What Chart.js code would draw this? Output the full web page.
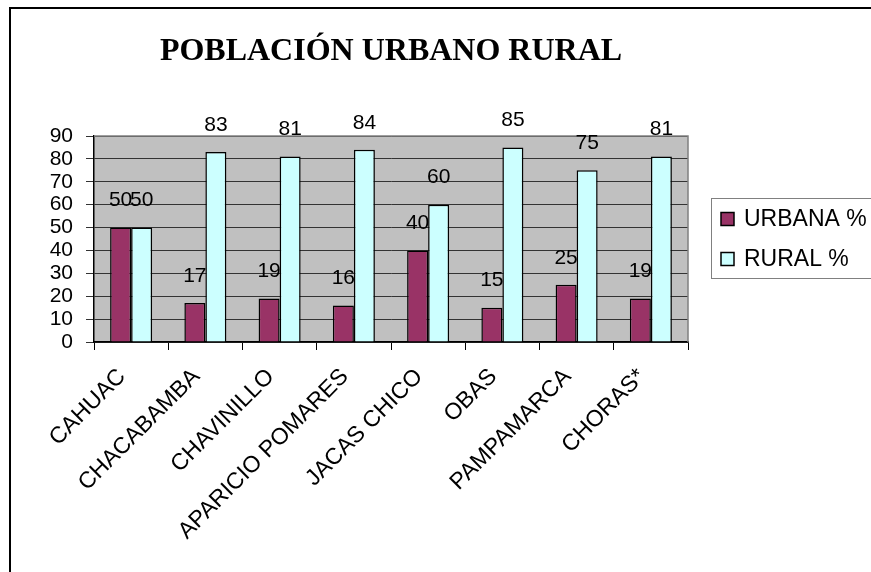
<!DOCTYPE html>
<html>
<head>
<meta charset="utf-8">
<script src="https://cdn.jsdelivr.net/npm/chart.js@4/dist/chart.umd.min.js"></script>
<style>
    html, body { margin: 0; padding: 0; background: #fff; }
    #wrap { width: 871px; height: 572px; position: relative; }
</style>
</head>
<body>
<div id="wrap"><canvas id="chart"></canvas></div>
<script>
// ---- data ----
const TITLE = 'POBLACIÓN URBANO RURAL';
const DISTRITOS = ['CAHUAC', 'CHACABAMBA', 'CHAVINILLO', 'APARICIO POMARES', 'JACAS CHICO', 'OBAS', 'PAMPAMARCA', 'CHORAS*'];
const URBANA = [50, 17, 19, 16, 40, 15, 25, 19];
const RURAL = [50, 83, 81, 84, 60, 85, 75, 81];
const Y_TICKS = [0, 10, 20, 30, 40, 50, 60, 70, 80, 90];

const SANS = '"Liberation Sans", Arial, sans-serif';
const SERIF = '"Liberation Serif", "Times New Roman", serif';

// gray plot area + outer frame + title, drawn under everything
const framePlugin = {
    id: 'frame',
    beforeDraw(chart) {
        const { ctx, chartArea: a } = chart;
        ctx.save();
        ctx.fillStyle = '#fff';
        ctx.fillRect(0, 0, chart.width, chart.height);
        ctx.fillStyle = '#c0c0c0';
        ctx.fillRect(a.left, a.top, a.right - a.left, a.bottom - a.top);

        // outer chart border (runs off the right and bottom)
        ctx.strokeStyle = '#000';
        ctx.lineWidth = 2;
        ctx.beginPath();
        ctx.moveTo(10, chart.height + 5);
        ctx.lineTo(10, 8);
        ctx.lineTo(chart.width + 5, 8);
        ctx.stroke();

        // title
        ctx.fillStyle = '#000';
        ctx.font = 'bold 32px ' + SERIF;
        ctx.textAlign = 'center';
        ctx.textBaseline = 'alphabetic';
        ctx.fillText(TITLE, (a.left + a.right) / 2, 60);
        ctx.restore();
    },
    afterDatasetsDraw(chart) {
        const { ctx, chartArea: a } = chart;
        ctx.save();
        ctx.strokeStyle = '#808080';
        ctx.lineWidth = 1.5;
        ctx.beginPath();
        ctx.moveTo(a.left, a.top);
        ctx.lineTo(a.right, a.top);
        ctx.lineTo(a.right, a.bottom);
        ctx.stroke();
        ctx.restore();
    }
};

// value labels above the bars
const valueLabels = {
    id: 'valueLabels',
    afterDatasetsDraw(chart) {
        const { ctx } = chart;
        ctx.save();
        ctx.fillStyle = '#000';
        ctx.font = '21px ' + SANS;
        ctx.textAlign = 'center';
        ctx.textBaseline = 'middle';
        chart.data.datasets.forEach((ds, di) => {
            chart.getDatasetMeta(di).data.forEach((bar, i) => {
                ctx.fillText(String(ds.data[i]), bar.x, bar.y - 27);
            });
        });
        ctx.restore();
    }
};

// rotated category labels (Excel style: end of text just left of the category centre)
const xLabels = {
    id: 'xLabels',
    afterDraw(chart) {
        const { ctx } = chart;
        const xs = chart.scales.x;
        ctx.save();
        ctx.fillStyle = '#000';
        ctx.font = '23px ' + SANS;
        ctx.textAlign = 'right';
        ctx.textBaseline = 'middle';
        chart.data.labels.forEach((lab, i) => {
            const x = xs.getPixelForTick(i);
            ctx.save();
            ctx.translate(x - 9, xs.top + 31);
            ctx.rotate(-Math.PI / 4);
            ctx.fillText(lab, 0, 0);
            ctx.restore();
        });
        ctx.restore();
    }
};

// legend box on the right
const legendBox = {
    id: 'legendBox',
    afterDraw(chart) {
        const { ctx } = chart;
        const left = 711, top = 198, bottom = 278;
        ctx.save();
        ctx.fillStyle = '#fff';
        ctx.fillRect(left, top, chart.width - left + 5, bottom - top);
        ctx.strokeStyle = '#808080';
        ctx.lineWidth = 1;
        ctx.strokeRect(left + 0.5, top + 0.5, chart.width - left + 5, bottom - top);
        ctx.font = '23px ' + SANS;
        ctx.textAlign = 'left';
        ctx.textBaseline = 'middle';
        chart.data.datasets.forEach((ds, i) => {
            const cy = 219 + i * 40;
            ctx.fillStyle = ds.backgroundColor;
            ctx.fillRect(721, cy - 6.5, 13, 13);
            ctx.strokeStyle = '#000';
            ctx.lineWidth = 1.5;
            ctx.strokeRect(721, cy - 6.5, 13, 13);
            ctx.fillStyle = '#000';
            ctx.fillText(ds.label, 744, cy + 1);
        });
        ctx.restore();
    }
};

new Chart(document.getElementById('chart'), {
    type: 'bar',
    data: {
        labels: DISTRITOS,
        datasets: [
            {
                label: 'URBANA %',
                data: URBANA,
                backgroundColor: '#993366',
                borderColor: '#000',
                borderWidth: 1.5,
                categoryPercentage: 0.566,
                barPercentage: 1
            },
            {
                label: 'RURAL %',
                data: RURAL,
                backgroundColor: '#ccffff',
                borderColor: '#000',
                borderWidth: 1.5,
                categoryPercentage: 0.566,
                barPercentage: 1
            }
        ]
    },
    options: {
        responsive: true,
        maintainAspectRatio: false,
        animation: false,
        events: [],
        layout: { padding: { left: 0, top: 136, right: 183, bottom: 0 } },
        plugins: {
            legend: { display: false },
            title: { display: false },
            tooltip: { enabled: false }
        },
        scales: {
            x: {
                ticks: { display: false },
                grid: { offset: true, drawOnChartArea: false, drawTicks: true, tickLength: 8, color: '#000', lineWidth: 1 },
                border: { color: '#000', width: 1.5 },
                afterFit(scale) { scale.height = 230; }
            },
            y: {
                min: 0,
                max: 90,
                afterBuildTicks(scale) { scale.ticks = Y_TICKS.map(v => ({ value: v })); },
                ticks: { color: '#000', font: { family: SANS, size: 21 }, padding: 13, autoSkip: false },
                grid: { color: '#333', lineWidth: 1, tickLength: 8, drawTicks: true },
                border: { color: '#000', width: 1.5 },
                afterFit(scale) { scale.width = 94; }
            }
        }
    },
    plugins: [framePlugin, valueLabels, xLabels, legendBox]
});
</script>
</body>
</html>
